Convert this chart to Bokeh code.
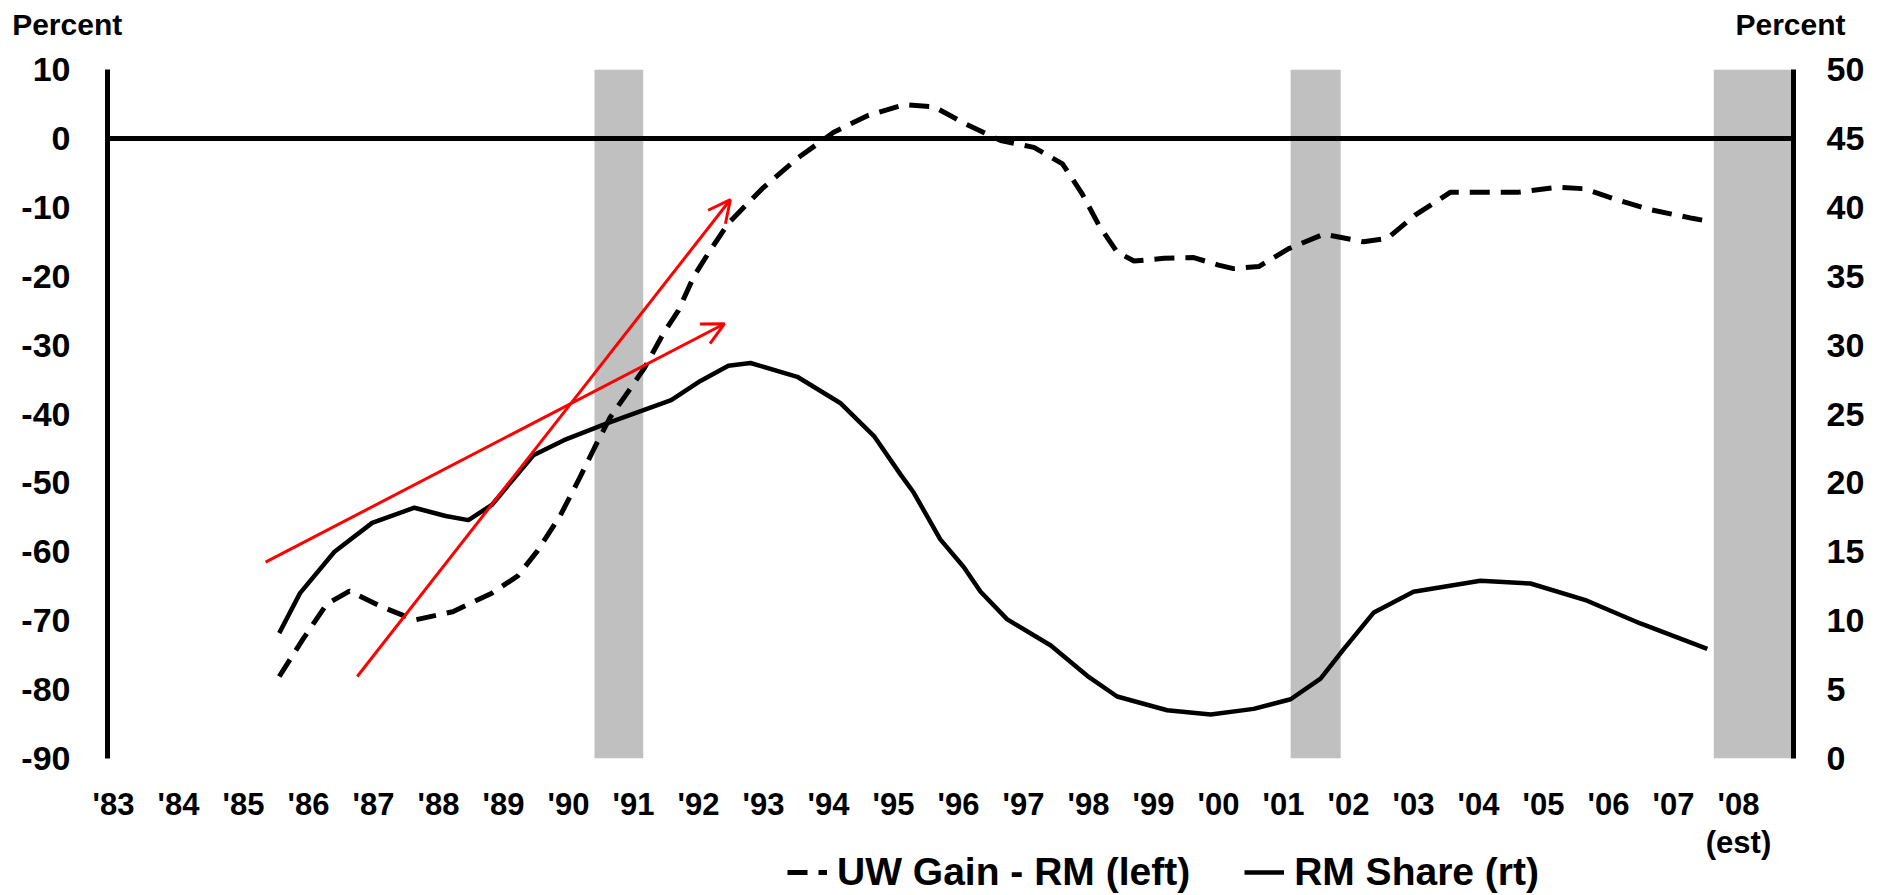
from bokeh.plotting import figure
from bokeh.layouts import column
from bokeh.models import (Range1d, LinearAxis, FixedTicker, Span, BoxAnnotation, Arrow,
                          OpenHead, Legend, LegendItem, ColumnDataSource)
from bokeh.core.properties import value
from bokeh.embed import file_html
from bokeh.resources import INLINE

# ---------------- data ----------------
year_ticks = list(range(1983, 2009))
year_labels = ["'" + str(y)[2:] for y in year_ticks]
left_ticks = [-90, -80, -70, -60, -50, -40, -30, -20, -10, 0, 10]
right_ticks = [0, 5, 10, 15, 20, 25, 30, 35, 40, 45, 50]

# UW Gain - RM (left axis, percent)
uw_years = [1985.55, 1985.92, 1986.28, 1986.63, 1987.11, 1987.63, 1988.22, 1988.82, 1989.22,
            1989.52, 1989.87, 1990.17, 1990.40, 1990.64, 1990.93, 1991.17, 1991.46, 1991.69,
            1991.93, 1992.17, 1992.46, 1992.98, 1993.52, 1994.08, 1994.60, 1995.16, 1995.62,
            1996.11, 1996.65, 1997.16, 1997.60, 1997.90, 1998.16, 1998.44, 1998.70, 1999.16,
            1999.62, 2000.00, 2000.23, 2000.62, 2001.08, 2001.62, 2002.23, 2002.60, 2003.03,
            2003.57, 2004.18, 2004.62, 2005.21, 2005.62, 2006.13, 2006.62, 2007.29, 2007.52]
uw_vals = [-78.1, -72.6, -67.6, -65.7, -67.9, -69.9, -68.7, -66.0, -63.5,
           -59.9, -54.8, -49.3, -44.9, -40.5, -36.6, -33.3, -28.3, -25.0,
           -20.0, -16.4, -12.3, -7.3, -2.9, 0.9, 3.3, 4.9, 4.6,
           2.1, -0.3, -1.3, -3.7, -8.0, -12.6, -16.5, -17.8, -17.4,
           -17.3, -18.4, -18.9, -18.6, -16.0, -13.9, -15.0, -14.5, -11.1,
           -7.8, -7.8, -7.8, -7.1, -7.3, -8.9, -10.3, -11.6, -12.0]

# RM Share (right axis, percent)
rm_years = [1985.55, 1985.87, 1986.40, 1986.98, 1987.63, 1988.11, 1988.46, 1988.82, 1989.46,
            1989.93, 1990.58, 1991.58, 1992.03, 1992.46, 1992.80, 1993.52, 1994.18, 1994.70,
            1995.11, 1995.31, 1995.72, 1996.08, 1996.34, 1996.75, 1997.42, 1997.98, 1998.44,
            1999.21, 1999.88, 2000.54, 2001.11, 2001.57, 2001.93, 2002.39, 2003.00, 2004.03,
            2004.80, 2005.67, 2006.49, 2007.52]
rm_vals = [9.1, 12.0, 15.0, 17.1, 18.2, 17.6, 17.3, 18.4, 22.0,
           23.1, 24.3, 26.0, 27.4, 28.5, 28.7, 27.7, 25.8, 23.4,
           20.6, 19.3, 15.9, 13.9, 12.1, 10.1, 8.2, 6.0, 4.5,
           3.5, 3.2, 3.6, 4.3, 5.8, 7.95, 10.6, 12.1, 12.9,
           12.7, 11.45, 9.8, 7.95]

# recession shading
rec_start = [1990.40, 2001.11, 2007.62]
rec_end = [1991.15, 2001.88, 2008.846]

# red trend arrows (left-axis units)
arrow_x_start = [1986.75, 1985.34]
arrow_y_start = [-78.1, -61.5]
arrow_x_end = [1992.49, 1992.40]
arrow_y_end = [-8.9, -26.9]

legend_labels = ["UW Gain - RM (left)", "RM Share (rt)"]
axis_title = "Percent"
est_note = "(est)"

# ---------------- layout ----------------
W = 1881
TOP_H = 48          # strip holding the two "Percent" titles
MAIN_BOTTOM = 824   # page y where the main chart ends
BOT_H = 895 - MAIN_BOTTOM
FL, FR = 107, 88
FRAME_TOP, FRAME_BOTTOM = 69, 760
X0, X1 = 1982.908, 2008.846
FONT = "Liberation Sans"
TITLE_CENTERS = [66.7, 1790.0]   # page-x centres of the two "Percent" titles


def make_fig(height, **kw):
    f = figure(width=W, height=height, output_backend="svg", toolbar_location=None,
               x_axis_location=None, y_axis_location=None, **kw)
    f.outline_line_color = None
    f.background_fill_color = "white"
    f.border_fill_color = "white"
    for g in f.grid:
        g.visible = False
    return f


def style_axis(ax, size, standoff):
    ax.major_tick_line_color = None
    ax.minor_tick_line_color = None
    ax.major_tick_out = 0
    ax.major_tick_in = 0
    ax.minor_tick_out = 0
    ax.major_label_standoff = standoff
    ax.major_label_text_font = FONT
    ax.major_label_text_font_style = "bold"
    ax.major_label_text_font_size = size
    ax.major_label_text_color = "black"


# ---- top strip: the two axis titles, set as labels of a page-pixel axis ----
top = make_fig(TOP_H, x_range=Range1d(0, W), y_range=Range1d(0, 1),
               min_border_left=0, min_border_right=0, min_border_top=40, min_border_bottom=0)
if "frame_align" in top.properties():
    top.frame_align = False
tt = LinearAxis(ticker=FixedTicker(ticks=TITLE_CENTERS),
                major_label_overrides={t: axis_title for t in TITLE_CENTERS})
style_axis(tt, "30px", 0)
tt.axis_line_color = None
top.add_layout(tt, "above")

# ---- main chart ----
p = make_fig(MAIN_BOTTOM - TOP_H, x_range=Range1d(X0, X1), y_range=Range1d(-90, 10),
             min_border_left=FL, min_border_right=FR,
             min_border_top=FRAME_TOP - TOP_H, min_border_bottom=MAIN_BOTTOM - FRAME_BOTTOM)
p.extra_y_ranges = {"right": Range1d(0, 50)}

ly = LinearAxis(ticker=FixedTicker(ticks=left_ticks),
                major_label_overrides={t: str(t) for t in left_ticks})
style_axis(ly, "34px", 37)
ly.axis_line_width = 5
ly.axis_line_color = "black"
p.add_layout(ly, "left")

ry = LinearAxis(y_range_name="right", ticker=FixedTicker(ticks=right_ticks),
                major_label_overrides={t: str(t) for t in right_ticks})
style_axis(ry, "34px", 33)
ry.axis_line_width = 5
ry.axis_line_color = "black"
p.add_layout(ry, "right")

bx = LinearAxis(ticker=FixedTicker(ticks=year_ticks),
                major_label_overrides={t: l for t, l in zip(year_ticks, year_labels)})
style_axis(bx, "31px", 28)
bx.axis_line_color = None
p.add_layout(bx, "below")

for a, b in zip(rec_start, rec_end):
    p.add_layout(BoxAnnotation(left=a, right=b, fill_color="#C0C0C0", fill_alpha=1.0,
                               line_color=None, level="underlay"))

p.add_layout(Span(location=0, dimension="width", line_color="black", line_width=5))

p.line(uw_years, uw_vals, line_color="black", line_width=5, line_dash="20 11")
p.line(rm_years, rm_vals, y_range_name="right", line_color="black", line_width=4.5,
       line_join="round")

asrc = ColumnDataSource(dict(x0=arrow_x_start, y0=arrow_y_start, x1=arrow_x_end, y1=arrow_y_end))
p.add_layout(Arrow(end=OpenHead(size=22, line_color="red", line_width=3),
                   x_start="x0", y_start="y0", x_end="x1", y_end="y1", source=asrc,
                   line_color="red", line_width=3))

# ---- bottom strip: "(est)" note and legend ----
bot = make_fig(BOT_H, x_range=p.x_range, y_range=Range1d(BOT_H, 0),
               min_border_left=FL, min_border_right=FR, min_border_top=0, min_border_bottom=0)
bot.extra_y_ranges = {"offscreen": Range1d(1000, 1100)}
bot.text(x=[year_ticks[-1]], y=[842 - MAIN_BOTTOM], text=[est_note], text_font=value(FONT),
         text_font_style="bold", text_font_size="31px", text_align="center",
         text_baseline="middle", text_color="black")
# legend keys: the same series, drawn on a range that keeps them out of this strip's view
leg_dash = bot.line(uw_years, uw_vals, y_range_name="offscreen", line_color="black",
                    line_width=5, line_dash="20 11")
leg_solid = bot.line(rm_years, rm_vals, y_range_name="offscreen", line_color="black",
                     line_width=4.5)
leg = Legend(items=[LegendItem(label=legend_labels[0], renderers=[leg_dash]),
                    LegendItem(label=legend_labels[1], renderers=[leg_solid])],
             location=(787 - FL, 1), orientation="horizontal",
             label_text_font=FONT, label_text_font_style="bold", label_text_font_size="39px",
             label_text_color="black", glyph_width=40, glyph_height=30, label_standoff=10,
             spacing=54, padding=0, margin=0, border_line_color=None, background_fill_alpha=0)
bot.add_layout(leg)

layout = column(top, p, bot, spacing=0)
open("out.html", "w").write(file_html(layout, INLINE))
